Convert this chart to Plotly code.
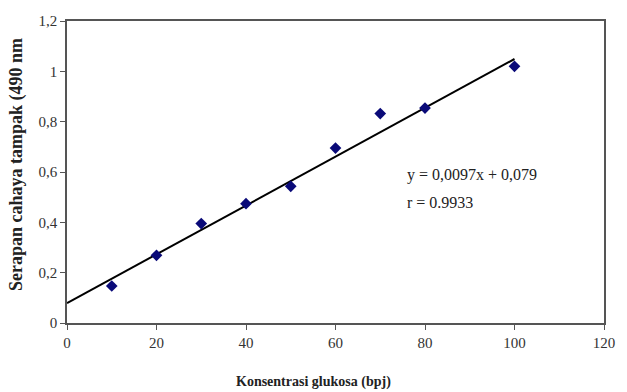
import plotly.graph_objects as go

# Glucose calibration data
konsentrasi = [10, 20, 30, 40, 50, 60, 70, 80, 100]
serapan = [0.147, 0.269, 0.395, 0.474, 0.543, 0.695, 0.832, 0.854, 1.020]

# Linear regression reported on the chart
slope = 0.0097
intercept = 0.079
line_x = [0, 100]
line_y = [slope * v + intercept for v in line_x]

x_ticks = [0, 20, 40, 60, 80, 100, 120]
y_ticks = [0, 0.2, 0.4, 0.6, 0.8, 1.0, 1.2]

serif = "Liberation Serif, Times New Roman, serif"

fig = go.Figure()
fig.add_trace(go.Scatter(
    x=line_x, y=line_y, mode="lines",
    line=dict(color="black", width=2), showlegend=False,
))
fig.add_trace(go.Scatter(
    x=konsentrasi, y=serapan, mode="markers",
    marker=dict(symbol="diamond", size=9, color="#0a0a78"),
    showlegend=False,
))

fig.add_annotation(x=75.5, y=0.587, xref="x", yref="y", xanchor="left", yanchor="middle",
                   text="y = 0,0097x + 0,079", showarrow=False,
                   font=dict(family=serif, size=16, color="#222"))
fig.add_annotation(x=75.5, y=0.48, xref="x", yref="y", xanchor="left", yanchor="middle",
                   text="r = 0.9933", showarrow=False,
                   font=dict(family=serif, size=16, color="#222"))

# Axis titles
fig.add_annotation(x=0.459, y=-0.196, xref="paper", yref="paper",
                   xanchor="center", yanchor="middle", showarrow=False,
                   text="<b>Konsentrasi glukosa (bpj)</b>",
                   font=dict(family=serif, size=14, color="#222"))
fig.add_annotation(x=-0.094, y=0.525, xref="paper", yref="paper",
                   xanchor="center", yanchor="middle", showarrow=False, textangle=-90,
                   text="<b>Serapan cahaya tampak (490 nm</b>",
                   font=dict(family=serif, size=18, color="#222"))

fig.update_layout(
    width=627, height=392,
    margin=dict(l=67, r=20, t=21, b=69),
    paper_bgcolor="white", plot_bgcolor="white",
    separators=",.",
    font=dict(family=serif, size=15, color="#333"),
)
fig.update_xaxes(
    range=[0, 120], tickvals=x_ticks, showgrid=False, zeroline=False,
    showline=True, linecolor="#555", linewidth=1.5, mirror=True,
    ticks="outside", ticklen=5, tickcolor="#555",
)
fig.update_yaxes(
    range=[0, 1.2], tickvals=y_ticks, showgrid=False, zeroline=False,
    showline=True, linecolor="#555", linewidth=1.5, mirror=True,
    ticks="outside", ticklen=5, tickcolor="#555",
)

fig.write_html("out.html")
